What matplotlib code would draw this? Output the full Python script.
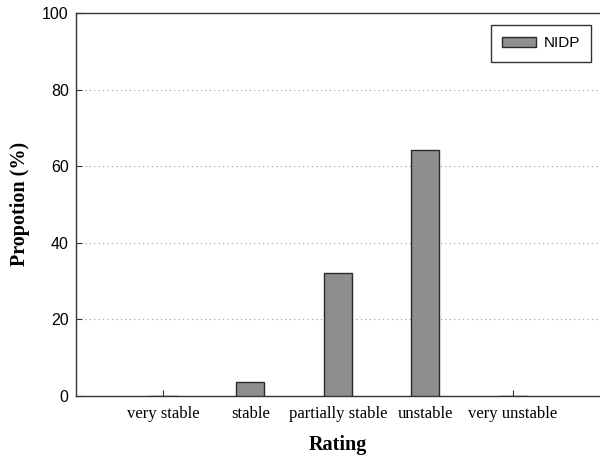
import matplotlib
matplotlib.use('Agg')
import matplotlib.pyplot as plt

ratings = ['very stable', 'stable', 'partially stable', 'unstable', 'very unstable']
nidp = [0.0, 3.6, 32.1, 64.3, 0.0]
yticks = [0, 20, 40, 60, 80, 100]

fig = plt.figure(figsize=(6.0, 4.63), dpi=100)
ax = fig.add_axes([0.126, 0.145, 0.874, 0.827])

x = list(range(len(ratings)))
ax.bar(x, nidp, width=0.32, color='#8e8e8e', edgecolor='#2a2a2a',
       linewidth=1.0, label='NIDP', zorder=3)

ax.set_xlim(-1, 5)
ax.set_ylim(0, 100)
ax.set_yticks(yticks)
ax.set_xticks(x)
ax.set_xticklabels(ratings, family='Liberation Serif', fontsize=12)
for lab in ax.get_yticklabels():
    lab.set_family('Liberation Sans')
    lab.set_fontsize(11.5)

ax.tick_params(direction='in', length=4, width=0.8, color='#333333')
ax.tick_params(axis='x', pad=7)
ax.tick_params(axis='y', pad=5)

ax.yaxis.grid(True, linestyle=(0, (1, 3)), color='#999999', linewidth=0.8, zorder=0)
ax.set_axisbelow(True)

for s in ['left', 'bottom', 'top']:
    ax.spines[s].set_color('#333333')
    ax.spines[s].set_linewidth(1.0)
ax.spines['right'].set_visible(False)

ax.set_xlabel('Rating', family='Liberation Serif', fontweight='bold',
              fontsize=14.5, labelpad=10)
ax.set_ylabel('Propotion (%)', family='Liberation Serif', fontweight='bold',
              fontsize=14.5, labelpad=9)

leg = ax.legend(loc='upper right', bbox_to_anchor=(0.983, 0.969),
                borderaxespad=0,
                prop={'family': 'Liberation Sans', 'size': 11},
                fancybox=False, framealpha=1, edgecolor='#333333',
                handlelength=2.2, handleheight=0.7, handletextpad=0.5,
                borderpad=0.75)
leg.get_frame().set_linewidth(1.0)

fig.savefig('out.png', dpi=100, facecolor='white')
plt.close()
